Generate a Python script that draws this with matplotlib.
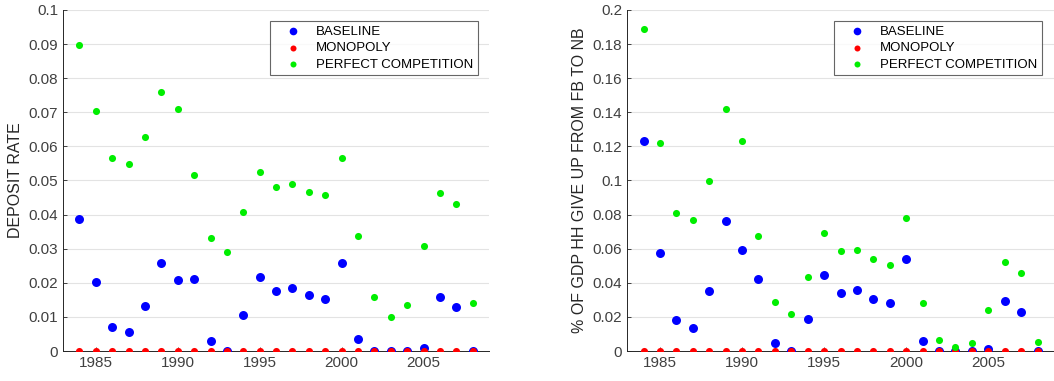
import numpy as np
import matplotlib.pyplot as plt

years = np.arange(1984, 2009)

# left panel: deposit rate
dep_base = [0.0387, 0.0203, 0.0071, 0.0055, 0.0131, 0.0257, 0.0208, 0.0210, 0.0029, 0.0,
            0.0107, 0.0217, 0.0176, 0.0184, 0.0163, 0.0153, 0.0258, 0.0036, 0.0, 0.0,
            0.0, 0.0010, 0.0159, 0.0128, 0.0]
dep_mono = [0.0] * 25
dep_pc = [0.0897, 0.0704, 0.0565, 0.0548, 0.0628, 0.0760, 0.0709, 0.0515, 0.0330, 0.0289,
          0.0409, 0.0525, 0.0482, 0.0490, 0.0467, 0.0457, 0.0566, 0.0337, 0.0159, 0.0099,
          0.0134, 0.0309, 0.0463, 0.0432, 0.0140]

# right panel: % of GDP HH give up from FB to NB
gdp_base = [0.1232, 0.0576, 0.0180, 0.0137, 0.0353, 0.0760, 0.0590, 0.0421, 0.0047, 0.0,
            0.0190, 0.0445, 0.0339, 0.0355, 0.0304, 0.0280, 0.0537, 0.0057, 0.0, 0.0,
            0.0, 0.0014, 0.0292, 0.0227, 0.0]
gdp_mono = [0.0] * 25
gdp_pc = [0.1890, 0.1218, 0.0809, 0.0768, 0.0995, 0.1418, 0.1230, 0.0674, 0.0286, 0.0219,
          0.0433, 0.0695, 0.0584, 0.0595, 0.0539, 0.0507, 0.0778, 0.0284, 0.0065, 0.0024,
          0.0047, 0.0241, 0.0521, 0.0456, 0.0053]

labels = ['BASELINE', 'MONOPOLY', 'PERFECT COMPETITION']

plt.rcParams['font.family'] = ['Liberation Sans', 'DejaVu Sans']
axcol = '#262626'

fig = plt.figure(figsize=(10.54, 3.81), dpi=100)
ax1 = fig.add_axes([0.0598, 0.0787, 0.4042, 0.8951])
ax2 = fig.add_axes([0.5950, 0.0787, 0.4050, 0.8951])

panels = [(ax1, dep_base, dep_mono, dep_pc, 0.1, 0.01, 'DEPOSIT RATE', 0.974),
          (ax2, gdp_base, gdp_mono, gdp_pc, 0.2, 0.02, '% OF GDP HH GIVE UP FROM FB TO NB', 0.972)]

for ax, b, m, p, ymax, step, ylab, lx in panels:
    ax.scatter(years, b, s=42, color='#0000ff', label=labels[0], zorder=3, linewidths=0)
    ax.scatter(years, m, s=26, color='#ff0000', label=labels[1], zorder=4, linewidths=0)
    ax.scatter(years, p, s=26, color='#00ee00', label=labels[2], zorder=5, linewidths=0)
    ax.set_xlim(1983, 2009)
    ax.set_ylim(0, ymax)
    ax.set_xticks([1985, 1990, 1995, 2000, 2005])
    yt = np.round(np.arange(0, ymax + step / 2, step), 3)
    ax.set_yticks(yt)
    ax.set_yticklabels(['0' if v == 0 else ('%g' % v) for v in yt])
    ax.yaxis.grid(True, color='#e3e3e3', linewidth=0.8)
    ax.set_axisbelow(True)
    for s in ['top', 'right']:
        ax.spines[s].set_visible(False)
    for s in ['left', 'bottom']:
        ax.spines[s].set_color(axcol)
        ax.spines[s].set_linewidth(0.7)
    ax.tick_params(direction='in', length=3, width=0.6, colors=axcol, labelsize=11,
                   labelcolor='#404040')
    ax.set_ylabel(ylab, fontsize=11.5, color='#262626', labelpad=4)
    leg = ax.legend(loc='upper right', bbox_to_anchor=(lx, 0.968),
                    fontsize=9.5, frameon=True, fancybox=False, scatterpoints=1,
                    handlelength=2.8, handletextpad=0.35, borderpad=0.35,
                    labelspacing=0.32, borderaxespad=0, markerscale=0.85)
    leg.get_frame().set_edgecolor('#404040')
    leg.get_frame().set_linewidth(0.8)

fig.savefig('out.png', dpi=100)
